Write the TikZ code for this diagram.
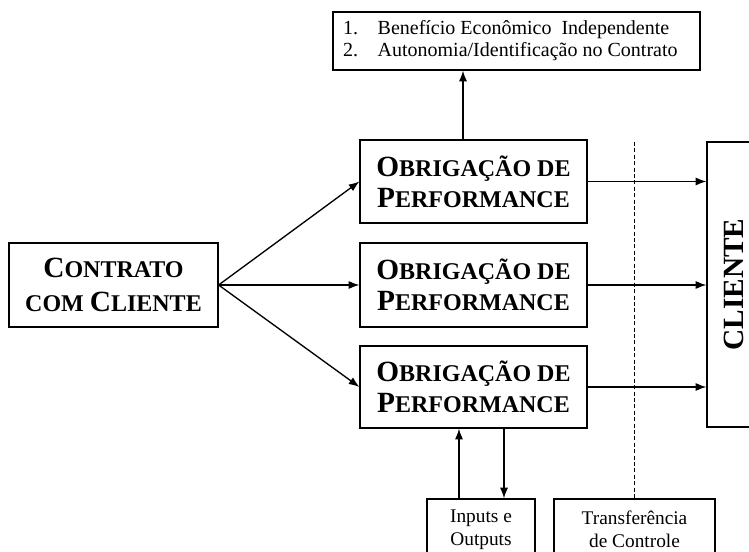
\documentclass[tikz,border=0pt]{standalone}
\usepackage{fontspec}
\setmainfont{Liberation Serif}
\usetikzlibrary{arrows.meta}
\newcommand\scbig[2]{{\fontsize{22}{23}\selectfont #1}{\fontsize{18}{23}\selectfont #2}}
\newcommand\scsmall[1]{{\fontsize{18}{23}\selectfont #1}}
\newcommand\numitem[1]{\makebox[26pt][l]{#1}}
\begin{document}
\begin{tikzpicture}[x=0.75pt,y=-0.75pt,
  box/.style={draw,line width=0.9pt,inner sep=0pt,align=center},
  bigtxt/.style={font=\bfseries\fontsize{18}{23}\selectfont,align=center},
  smalltxt/.style={font=\fontsize{14.5}{17}\selectfont},
  arr/.style={line width=1pt,-{Latex[length=8pt,width=6pt]}},
  dashln/.style={line width=1.3pt,dash pattern=on 3pt off 1.8pt}]
\useasboundingbox (0,0) rectangle (749,552);
\clip (0,0) rectangle (749,552);
\fill[white] (0,0) rectangle (749,552);
% top box
\node[box,minimum width=367*0.75pt,minimum height=58*0.75pt,align=flush left,text width=347*0.75pt,font=\fontsize{15}{16.5}\selectfont] (top) at (516.5,41)
  {\numitem{1.}Benefício Econômico\ \ Independente\\\numitem{2.}Autonomia/Identificação no Contrato};
% contrato
\node[box,bigtxt,font=\bfseries\fontsize{18}{25.5}\selectfont,minimum width=209*0.75pt,minimum height=84*0.75pt] (ct) at (113.5,285)
  {\scbig{C}{ONTRATO}\\\scsmall{COM }\scbig{C}{LIENTE}};
% obrigacoes
\foreach \n/\y/\h in {ob1/181.5/83, ob2/285/84, ob3/387/82}{
  \node[box,bigtxt,minimum width=227*0.75pt,minimum height=\h*0.75pt] (\n) at (473.5,\y)
    {\scbig{O}{BRIGAÇÃO DE}\\\scbig{P}{ERFORMANCE}};
}
% cliente
\node[box,minimum width=53*0.75pt,minimum height=285*0.75pt] (cl) at (733.5,284.5) {};
\node[rotate=90,font=\bfseries\fontsize{22}{26}\selectfont] (cltxt) at (733.5,284.5) {CLIENTE};
% bottom boxes
\node[box,smalltxt,minimum width=108*0.75pt,minimum height=61*0.75pt] (io) at (481,529.5) {Inputs e\\Outputs};
\node[box,smalltxt,minimum width=161*0.75pt,minimum height=61*0.75pt] (tr) at (634.5,529.5) {Transferência\\de Controle};
% dashed line
\coordinate (dtop) at (634.5,142);
\draw[dashln] (dtop) -- (tr.north);
% arrows
\draw[arr] (ct.east) -- (ob1.west);
\draw[arr] (ct.east) -- (ob2.west);
\draw[arr] (ct.east) -- (ob3.west);
\draw[arr] (ob1.east) -- (ob1.east -| cl.west);
\draw[arr] (ob2.east) -- (ob2.east -| cl.west);
\draw[arr] (ob3.east) -- (ob3.east -| cl.west);
\draw[arr] (463,0 |- ob1.north) -- (463,0 |- top.south);
\draw[arr] (459,0 |- io.north) -- (459,0 |- ob3.south);
\draw[arr] (504,0 |- ob3.south) -- (504,0 |- io.north);
\end{tikzpicture}
\end{document}
